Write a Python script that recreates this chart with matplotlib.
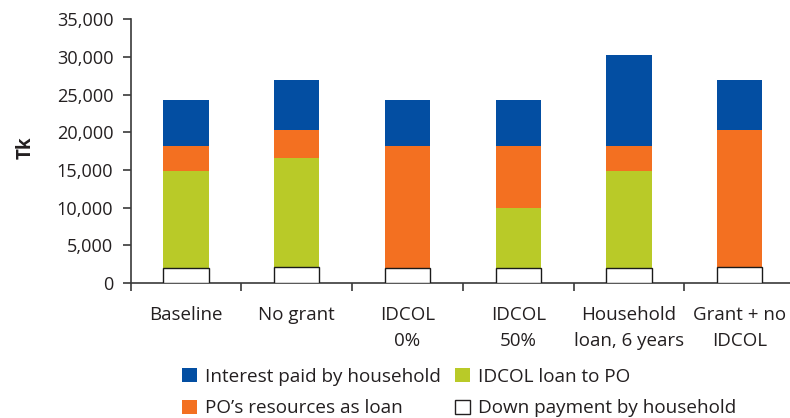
import matplotlib
matplotlib.use("Agg")
import matplotlib.pyplot as plt
from matplotlib.patches import Patch
import numpy as np

plt.rcParams['font.family'] = ['Open Sans', 'DejaVu Sans']

categories = ["Baseline", "No grant", "IDCOL\n0%", "IDCOL\n50%",
              "Household\nloan, 6 years", "Grant + no\nIDCOL"]
down_payment = [1950, 2100, 1950, 1950, 1950, 2100]
idcol_loan = [12950, 14500, 0, 8000, 12950, 0]
po_resources = [3300, 3650, 16250, 8250, 3300, 18150]
interest = [6100, 6700, 6100, 6100, 12000, 6700]

c_blue = "#034ea2"
c_orange = "#f37021"
c_green = "#b9ca28"
axis_col = "#3a3a3a"
text_col = "#231f20"

W, H = 790, 418
fig = plt.figure(figsize=(W / 100, H / 100), dpi=100)
left, right, top, bottom = 130.7, 795.0, 19.3, 283.0
ax = fig.add_axes([left / W, 1 - bottom / H, (right - left) / W, (bottom - top) / H])

x = np.arange(len(categories))
bw = 0.41
d = np.array(down_payment)
g = np.array(idcol_loan)
o = np.array(po_resources)
b = np.array(interest)

ax.bar(x, d, bw, color="white", edgecolor="#1a1a1a", linewidth=1.0, zorder=3)
ax.bar(x, g, bw, bottom=d, color=c_green, linewidth=0, zorder=2)
ax.bar(x, o, bw, bottom=d + g, color=c_orange, linewidth=0, zorder=2)
ax.bar(x, b, bw, bottom=d + g + o, color=c_blue, linewidth=0, zorder=2)

ax.set_xlim(-0.5, len(categories) - 0.5)
ax.set_ylim(0, 35000)
ax.set_yticks(np.arange(0, 35001, 5000))
ax.set_yticklabels([f"{v:,}" for v in range(0, 35001, 5000)])
ax.set_xticks(x)
ax.set_xticklabels(categories, linespacing=1.6)
ax.set_xticks(np.arange(-0.5, len(categories)), minor=True)

for s in ["top", "right"]:
    ax.spines[s].set_visible(False)
for s in ["left", "bottom"]:
    ax.spines[s].set_color(axis_col)
    ax.spines[s].set_linewidth(1.2)

ax.tick_params(axis="x", which="major", length=0, pad=16.5, labelsize=13.5, colors=text_col)
ax.tick_params(axis="x", which="minor", length=5.5, width=1.2, color=axis_col, direction="out")
ax.tick_params(axis="y", length=5.5, width=1.2, color=axis_col, pad=7, labelsize=13.1, labelcolor=text_col)

fig.text(25.5 / W, 1 - 148 / H, "Tk", rotation=90, ha="center", va="center",
         fontsize=13.5, fontweight="bold", color=text_col)

handles = [
    Patch(facecolor=c_blue, edgecolor="none", label="Interest paid by household"),
    Patch(facecolor=c_orange, edgecolor="none", label="PO\u2019s resources as loan"),
    Patch(facecolor=c_green, edgecolor="none", label="IDCOL loan to PO"),
    Patch(facecolor="white", edgecolor=text_col, linewidth=1.0, label="Down payment by household"),
]
leg = fig.legend(handles=handles, ncol=2, loc="upper left",
                 bbox_to_anchor=(176 / W, 1 - 362 / H), frameon=False,
                 fontsize=13.6, handlelength=0.8, handleheight=0.8,
                 handletextpad=0.44, columnspacing=0.74, labelspacing=0.73,
                 borderpad=0.3, borderaxespad=0)
for t in leg.get_texts():
    t.set_color(text_col)

fig.savefig("out.png", dpi=100)
